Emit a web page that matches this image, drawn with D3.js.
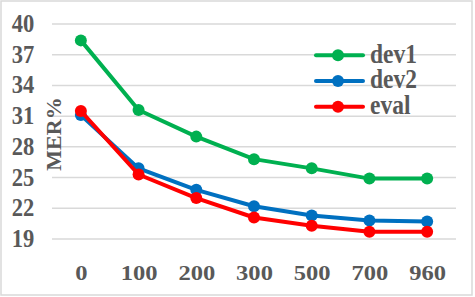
<!DOCTYPE html>
<html>
<head>
<meta charset="utf-8">
<script src="https://cdn.jsdelivr.net/npm/d3@7"></script>
<style>
  body { margin: 0; background: #fff; }
  svg { display: block; }
</style>
</head>
<body>
<div id="chart"></div>
<script>
const categories = ["0", "100", "200", "300", "500", "700", "960"]
const dev1 = [38.4, 31.6, 29.0, 26.8, 25.9, 24.9, 24.9]
const dev2 = [31.1, 25.9, 23.8, 22.2, 21.3, 20.8, 20.7]
const evalSet = [31.5, 25.3, 23.0, 21.1, 20.3, 19.7, 19.7]
const yTicks = [19, 22, 25, 28, 31, 34, 37, 40]
const seriesNames = ["dev1", "dev2", "eval"]

const W = 475, H = 297
const MARGIN = {TOP: 24, BOTTOM: 58, LEFT: 52, RIGHT: 19}
const WIDTH = W - MARGIN.LEFT - MARGIN.RIGHT
const HEIGHT = H - MARGIN.TOP - MARGIN.BOTTOM

const colors = {dev1: "#00B050", dev2: "#0070C0", eval: "#FF0000"}
const series = [
  {name: "dev1", values: dev1},
  {name: "dev2", values: dev2},
  {name: "eval", values: evalSet}
]
const FONT = "'Liberation Serif', 'Times New Roman', serif"
const TEXT = "#595959"

const svg = d3.select("#chart").append("svg")
  .attr("width", W).attr("height", H)

// outer chart border
svg.append("rect")
  .attr("x", 1).attr("y", 1)
  .attr("width", W - 4).attr("height", H - 3)
  .attr("fill", "#fff").attr("stroke", "#d9d9d9").attr("stroke-width", 1.5)

const g = svg.append("g")
  .attr("transform", `translate(${MARGIN.LEFT}, ${MARGIN.TOP})`)

const x = d3.scalePoint()
  .domain(categories)
  .range([0, WIDTH])
  .padding(0.5)

const y = d3.scaleLinear()
  .domain([19, 40])
  .range([HEIGHT, 0])

// gridlines
g.append("g").selectAll("line")
  .data(yTicks)
  .join("line")
  .attr("x1", 0).attr("x2", WIDTH)
  .attr("y1", d => y(d)).attr("y2", d => y(d))
  .attr("stroke", "#d9d9d9").attr("stroke-width", 1.5)

// y axis
const yAxis = g.append("g")
  .call(d3.axisLeft(y).tickValues(yTicks).tickSize(0).tickPadding(18))
yAxis.select(".domain").remove()
yAxis.selectAll("text")
  .attr("font-family", FONT).attr("font-weight", "bold")
  .attr("font-size", 23).attr("fill", TEXT)
  .attr("dy", "0.3em")
  .attr("transform", "scale(0.98, 1.08)")

// x axis (labels are drawn a bit wider than normal, as in the picture)
const xAxis = g.append("g")
  .attr("transform", `translate(0, ${HEIGHT})`)
  .call(d3.axisBottom(x).tickSize(0))
xAxis.select(".domain").remove()
xAxis.selectAll("text")
  .attr("font-family", FONT).attr("font-weight", "bold")
  .attr("font-size", 21).attr("fill", TEXT)
  .attr("y", 41).attr("dy", 0)
  .attr("transform", "scale(1.17, 1)")

// y label
svg.append("text")
  .attr("transform", `translate(61, 134) rotate(-90)`)
  .attr("text-anchor", "middle")
  .attr("font-family", FONT).attr("font-weight", "bold")
  .attr("font-size", 22).attr("fill", TEXT)
  .text("MER%")

// lines
const line = d3.line()
  .x((d, i) => x(categories[i]))
  .y(d => y(d))

series.forEach(s => {
  g.append("path")
    .datum(s.values)
    .attr("d", line)
    .attr("fill", "none")
    .attr("stroke", colors[s.name])
    .attr("stroke-width", 4)
    .attr("stroke-linejoin", "round")
  g.append("g").selectAll("circle")
    .data(s.values)
    .join("circle")
    .attr("cx", (d, i) => x(categories[i]))
    .attr("cy", d => y(d))
    .attr("r", 6)
    .attr("fill", colors[s.name])
})

// legend
const legend = svg.append("g").attr("transform", "translate(316, 55.3)")
seriesNames.forEach((name, i) => {
  const row = legend.append("g").attr("transform", `translate(0, ${i * 25.7})`)
  row.append("line")
    .attr("x1", 0).attr("x2", 47)
    .attr("stroke", colors[name]).attr("stroke-width", 4)
    .attr("stroke-linecap", "round")
  row.append("circle").attr("cx", 22).attr("r", 6).attr("fill", colors[name])
  row.append("text")
    .attr("transform", "translate(54, 7.4) scale(1, 1.12)")
    .attr("font-family", FONT).attr("font-weight", "bold")
    .attr("font-size", 23.5).attr("fill", TEXT)
    .text(name)
})
</script>
</body>
</html>
